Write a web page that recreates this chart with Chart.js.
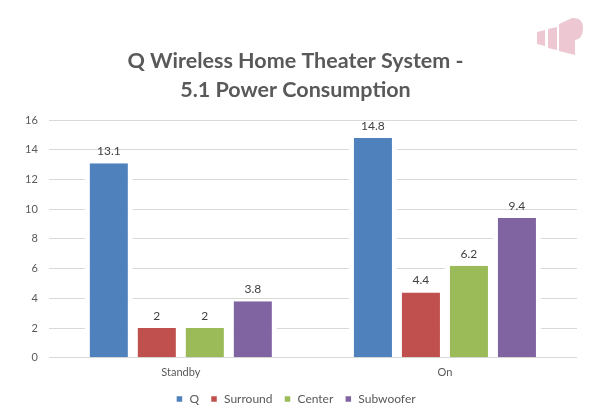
<!DOCTYPE html>
<html>
<head>
<meta charset="utf-8">
<script src="https://cdn.jsdelivr.net/npm/chart.js@4/dist/chart.umd.min.js"></script>
<style>
html,body{margin:0;padding:0;background:#fff;}
#wrap{width:600px;height:420px;}
</style>
</head>
<body>
<div id="wrap"><canvas id="c" width="600" height="420"></canvas></div>
<script>
const categories = ["Standby", "On"];
const seriesNames = ["Q", "Surround", "Center", "Subwoofer"];
const qValues = [13.1, 14.8];
const surroundValues = [2, 4.4];
const centerValues = [2, 6.2];
const subwooferValues = [3.8, 9.4];
const yTicks = [0, 2, 4, 6, 8, 10, 12, 14, 16];
const titleLines = ["Q Wireless Home Theater System -", "5.1 Power Consumption"];

const colors = ["#4F81BD", "#C0504D", "#9BBB59", "#8064A2"];
const allValues = [qValues, surroundValues, centerValues, subwooferValues];

const FONT = "Lato, 'Open Sans', 'DejaVu Sans', sans-serif";
const TXT = "#595959";

const dataLabels = {
  id: "dataLabels",
  afterDatasetsDraw(chart) {
    const ctx = chart.ctx;
    ctx.save();
    ctx.font = "12px " + FONT;
    ctx.fillStyle = "#404040";
    ctx.textAlign = "center";
    ctx.textBaseline = "bottom";
    chart.data.datasets.forEach((ds, i) => {
      const meta = chart.getDatasetMeta(i);
      meta.data.forEach((el, j) => {
        ctx.fillText(String(ds.data[j]), el.x, el.y - 6);
      });
    });
    ctx.restore();
  }
};

const logo = {
  id: "logo",
  afterDraw(chart) {
    const ctx = chart.ctx;
    ctx.save();
    ctx.fillStyle = "#EDC8D2";
    ctx.beginPath();
    ctx.moveTo(537, 32); ctx.lineTo(545, 30); ctx.lineTo(545, 46); ctx.lineTo(537, 44); ctx.closePath(); ctx.fill();
    ctx.beginPath();
    ctx.moveTo(548, 29); ctx.lineTo(557, 27); ctx.lineTo(557, 50); ctx.lineTo(548, 48); ctx.closePath(); ctx.fill();
    ctx.beginPath();
    ctx.moveTo(559, 24);
    ctx.lineTo(572, 18);
    ctx.quadraticCurveTo(583, 17, 583, 28);
    ctx.quadraticCurveTo(583, 39, 575, 40);
    ctx.lineTo(575, 55);
    ctx.lineTo(559, 51);
    ctx.closePath();
    ctx.fill();
    ctx.restore();
  }
};

new Chart(document.getElementById("c"), {
  type: "bar",
  data: {
    labels: categories,
    datasets: seriesNames.map((n, i) => ({
      label: n,
      data: allValues[i],
      backgroundColor: colors[i],
      borderColor: "#FFFFFF",
      borderWidth: { left: 5, right: 5, top: 0, bottom: 0 },
      borderSkipped: false,
      categoryPercentage: 0.727,
      barPercentage: 1.0
    }))
  },
  options: {
    responsive: false,
    animation: false,
    layout: { padding: { left: 14, right: 23, top: 0, bottom: 5 } },
    plugins: {
      title: {
        display: true,
        text: titleLines,
        color: TXT,
        font: { family: FONT, size: 21.5, weight: "bold", lineHeight: 1.35 },
        padding: { top: 47, bottom: 15 }
      },
      legend: {
        position: "bottom",
        labels: {
          color: TXT,
          font: { family: FONT, size: 12 },
          boxWidth: 8,
          boxHeight: 8,
          padding: 11
        }
      },
      tooltip: { enabled: false }
    },
    scales: {
      x: {
        afterFit(scale) { scale.height += 3; },
        grid: { display: false },
        border: { display: false },
        ticks: { color: TXT, font: { family: FONT, size: 11 }, padding: 0 }
      },
      y: {
        min: 0,
        max: 16,
        afterBuildTicks(scale) { scale.ticks = yTicks.map(v => ({ value: v })); },
        grid: { color: "#D9D9D9", drawTicks: false },
        border: { display: false },
        ticks: { color: TXT, font: { family: FONT, size: 11 }, padding: 11 }
      }
    }
  },
  plugins: [dataLabels, logo]
});
</script>
</body>
</html>
